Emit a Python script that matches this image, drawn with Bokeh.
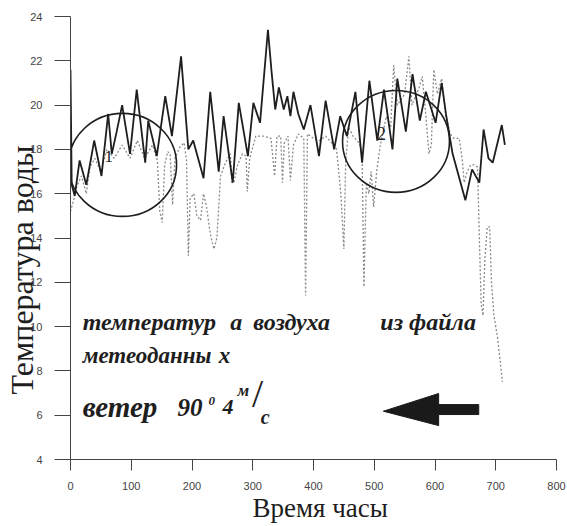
from bokeh.plotting import figure
from bokeh.models import Label, Range1d, FixedTicker
from bokeh.embed import file_html
from bokeh.resources import INLINE

# Water temperature (solid), hours vs deg C
water_t = [0, 2, 7, 15, 26, 39, 51, 62, 68, 76, 85, 98, 109, 123, 128, 142, 156, 167,
           182, 194, 202, 219, 230, 244, 252, 267, 277, 292, 301, 312, 325, 331, 337,
           343, 351, 357, 362, 367, 375, 384, 395, 409, 420, 434, 444, 455, 469, 480,
           492, 505, 516, 530, 538, 552, 563, 575, 585, 601, 611, 618, 629, 650, 661,
           673, 680, 688, 695, 710, 715]
water_v = [21.6, 16.4, 15.9, 17.5, 16.4, 18.4, 16.8, 19.6, 17.8, 18.8, 20.0, 17.8, 20.7,
           17.4, 19.3, 17.7, 20.4, 18.6, 22.2, 18.0, 18.4, 16.7, 20.6, 17.0, 19.5, 16.5,
           20.1, 17.7, 20.1, 19.2, 23.4, 21.5, 19.8, 20.8, 19.8, 20.4, 19.5, 20.6, 19.6,
           18.9, 20.0, 17.7, 20.2, 18.0, 19.5, 18.6, 20.6, 17.4, 21.1, 18.4, 20.7, 18.0,
           21.2, 18.8, 21.4, 19.3, 20.6, 19.2, 21.0, 19.6, 17.8, 15.7, 17.1, 16.5, 18.9,
           17.6, 17.4, 19.1, 18.2]

# Air temperature from the meteo file (dotted)
air_t = [0, 4, 10, 18, 26, 32, 40, 50, 60, 72, 85, 98, 110, 122, 135, 143, 147, 151,
         155, 160, 164, 168, 172, 180, 187, 191, 194, 197, 203, 208, 214, 219, 224, 230,
         236, 241, 247, 255, 263, 266, 269, 275, 283, 289, 291, 295, 305, 318, 330, 336,
         340, 346, 349, 352, 358, 362, 367, 375, 384, 387, 390, 400, 410, 420, 430, 438,
         445, 450, 453, 458, 465, 475, 480, 483, 487, 491, 495, 499, 504, 510, 520, 527,
         532, 538, 543, 550, 557, 562, 568, 574, 579, 585, 590, 594, 598, 604, 611, 618,
         625, 631, 640, 645, 648, 653, 659, 665, 670, 673, 676, 679, 682, 686, 690, 693,
         697, 703, 711]
air_v = [15.2, 15.6, 16.3, 16.8, 16.0, 17.2, 17.6, 17.0, 18.0, 17.6, 18.2, 17.6, 18.4,
         17.6, 18.2, 17.5, 15.2, 14.7, 17.3, 17.9, 17.8, 15.5, 17.6, 18.1, 18.3, 17.5,
         13.2, 15.8, 16.0, 15.0, 14.8, 16.0, 15.4, 14.2, 13.5, 14.0, 16.8, 17.4, 17.8,
         16.5, 16.5, 17.3, 17.8, 17.7, 16.1, 17.6, 18.6, 18.6, 18.5, 16.8, 18.6, 18.6,
         16.5, 18.3, 18.6, 16.6, 18.2, 18.7, 18.5, 11.4, 18.7, 18.5, 18.4, 18.6, 18.3,
         18.0, 16.0, 13.5, 17.5, 19.0, 18.6, 18.3, 17.8, 11.8, 16.5, 16.0, 17.0, 15.4,
         17.0, 18.2, 19.5, 19.0, 21.8, 20.0, 20.2, 20.5, 22.2, 20.0, 20.4, 20.8, 21.3,
         19.5, 17.8, 18.2, 21.6, 20.5, 21.2, 19.5, 18.7, 18.5, 18.5, 17.5, 16.5, 17.0,
         17.3, 17.3, 17.2, 14.0, 11.0, 10.5, 13.0, 14.5, 14.5, 12.0, 10.5, 9.5, 7.5]

x_ticks = [0, 100, 200, 300, 400, 500, 600, 700, 800]
y_ticks = [4, 6, 8, 10, 12, 14, 16, 18, 20, 22, 24]

NB = "\u00a0"
serif = "Liberation Serif"

p = figure(width=567, height=526, x_range=Range1d(0, 800), y_range=Range1d(4, 24),
           output_backend="svg", toolbar_location=None,
           min_border_left=70, min_border_right=11, min_border_top=16, min_border_bottom=67)
p.outline_line_color = None
p.xgrid.visible = False
p.ygrid.visible = False
p.background_fill_color = "white"
p.border_fill_color = "white"

for ax in (p.xaxis[0], p.yaxis[0]):
    ax.axis_line_color = "#444444"
    ax.axis_line_width = 1
    ax.major_tick_line_color = "#444444"
    ax.minor_tick_line_color = None
    ax.major_tick_in = 0
    ax.major_label_text_font = "Liberation Sans"
    ax.major_label_text_font_size = "11px"
    ax.major_label_text_color = "#444444"
    ax.axis_label_text_font = serif
    ax.axis_label_text_font_style = "normal"
    ax.axis_label_text_color = "#1e1e1e"

p.xaxis.ticker = FixedTicker(ticks=x_ticks)
p.yaxis.ticker = FixedTicker(ticks=y_ticks)
p.xaxis.major_tick_out = 11
p.xaxis.major_label_standoff = 11
p.yaxis.major_tick_out = 16
p.yaxis.major_label_standoff = 12

p.xaxis.axis_label = NB * 2 + "Время часы"
p.xaxis.axis_label_text_font_size = "27px"
p.xaxis.axis_label_standoff = 0
p.yaxis.axis_label = "Температура воды" + NB * 8
p.yaxis.axis_label_text_font_size = "32px"
p.yaxis.axis_label_standoff = -13

# series
p.line(air_t, air_v, line_color="#8a8a8a", line_width=1.3, line_dash="2 2")
p.line(water_t, water_v, line_color="#1e1e1e", line_width=1.8)

# circled regions
p.ellipse(x=[85.6, 535.8], y=[17.3, 18.36], width=[178, 176], height=[4.65, 4.6],
          fill_color=None, line_color="#1e1e1e", line_width=1.6)


def lab(x, y, text, size, style="bold italic", align="left", baseline="alphabetic", angle=0):
    p.add_layout(Label(x=x, y=y, text=text, text_font=serif, text_font_size=size,
                       text_font_style=style, text_align=align, text_baseline=baseline,
                       text_color="#1e1e1e", angle=angle))


lab(63, 17.7, "1", "17px", style="normal", align="center", baseline="middle")
lab(512, 18.7, "2", "18px", style="normal", align="center", baseline="middle")

# annotation text
lab(20, 10.19, "температур", "24px")
lab(263, 10.19, "а", "24px")
lab(301, 10.19, "воздуха", "24px")
lab(510, 10.19, "из файла", "24px")
lab(20, 8.7, "метеоданны", "23px")
lab(244, 8.7, "х", "23px")
lab(20, 6.35, "ветер", "29px")
lab(176, 6.35, "90", "25px")
lab(227, 6.66, "0", "13px")
lab(250, 6.35, "4", "22px")
lab(275, 7.1, "м", "17px")
lab(308, 6.98, "/", "40px", style="normal", align="center", baseline="middle")
lab(313, 5.94, "с", "20px")

# wind arrow
p.patch([515, 606, 606, 672, 672, 606, 606], [6.18, 6.98, 6.48, 6.48, 6.03, 6.03, 5.53],
        fill_color="#1a1a1a", line_color="#1a1a1a")

open("out.html", "w").write(file_html(p, INLINE))
